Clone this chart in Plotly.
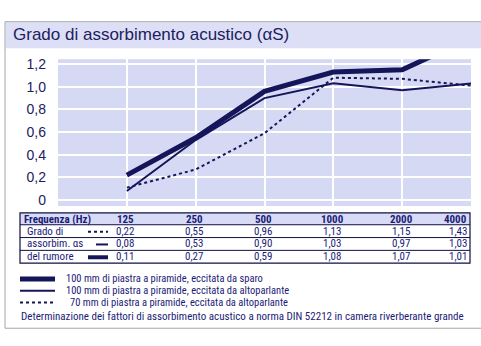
import plotly.graph_objects as go

# ---- data ----
freqs = ["125", "250", "500", "1000", "2000", "4000"]
shot_100mm = [0.22, 0.55, 0.96, 1.13, 1.15, 1.43]      # thick line
speaker_100mm = [0.08, 0.53, 0.90, 1.03, 0.97, 1.03]   # thin line
speaker_70mm = [0.11, 0.27, 0.59, 1.08, 1.07, 1.01]    # dotted line
row_labels = ["Grado di", "assorbim. \u03b1s", "del rumore"]
y_ticks = [0, 0.2, 0.4, 0.6, 0.8, 1.0, 1.2]
y_ticktext = ["0", "0,2", "0,4", "0,6", "0,8", "1,0", "1,2"]
legend_texts = [
    "100 mm di piastra a piramide, eccitata da sparo",
    "100 mm di piastra a piramide, eccitata da altoparlante",
    "70 mm di piastra a piramide, eccitata da altoparlante",
]
title = "Grado di assorbimento acustico (\u03b1S)"
footer = "Determinazione dei fattori di assorbimento acustico a norma DIN 52212 in camera riverberante grande"

W, H = 481, 346
NAVY = "#1c1c78"
LINE = "#15155a"
LAV = "#d6d9f3"
NARROW = "Liberation Sans Narrow, Arial Narrow, Roboto Condensed, Liberation Sans, sans-serif"
SANS = "Liberation Sans, Arial, sans-serif"

def px(x):
    return x / W

def py(y):
    return 1 - y / H

xi = list(range(len(freqs)))

fig = go.Figure()
fig.add_trace(go.Scatter(x=xi, y=speaker_70mm, mode="lines",
                         line=dict(color=LINE, width=2, dash="dot"), hoverinfo="skip"))
fig.add_trace(go.Scatter(x=xi, y=speaker_100mm, mode="lines",
                         line=dict(color=LINE, width=2), hoverinfo="skip"))
fig.add_trace(go.Scatter(x=xi, y=shot_100mm, mode="lines",
                         line=dict(color=LINE, width=5), hoverinfo="skip"))

shapes = []
annots = []

# outer frame and title band
shapes.append(dict(type="rect", xref="paper", yref="paper", x0=px(5.5), x1=px(482), y0=py(46), y1=py(19.5),
                   line=dict(width=0), fillcolor="#dcdff6", layer="below"))
shapes.append(dict(type="rect", xref="paper", yref="paper", x0=px(5), x1=px(482), y0=py(330), y1=py(19),
                   line=dict(color="#a3a8a8", width=1), layer="below"))
annots.append(dict(text=title, xref="paper", yref="paper", x=px(11), y=py(32), xanchor="left", yanchor="middle",
                   showarrow=False, font=dict(family=SANS, size=17, color="#1e2060")))

# table
tl, tr = 20, 470
rows_y = [213, 225, 238, 251, 264]
col_x = [125, 194, 263, 332, 401, 458]
shapes.append(dict(type="rect", xref="paper", yref="paper", x0=px(tl), x1=px(tr), y0=py(rows_y[1]), y1=py(rows_y[0]),
                   line=dict(width=0), fillcolor="#d8dbf5"))
shapes.append(dict(type="rect", xref="paper", yref="paper", x0=px(tl), x1=px(tr), y0=py(rows_y[-1]), y1=py(rows_y[0]),
                   line=dict(color="#101040", width=1.2)))
for yy in rows_y[1:-1]:
    shapes.append(dict(type="line", xref="paper", yref="paper", x0=px(tl), x1=px(tr), y0=py(yy), y1=py(yy),
                       line=dict(color="#101040", width=1)))

annots.append(dict(text="<b>Frequenza (Hz)</b>", xref="paper", yref="paper", x=px(22), y=py(219.5),
                   xanchor="left", yanchor="middle", showarrow=False, font=dict(family=NARROW, size=11, color=NAVY)))
for i, f in enumerate(freqs):
    anchor = "right" if i == len(freqs) - 1 else "center"
    xx = tr - 1 if i == len(freqs) - 1 else col_x[i]
    annots.append(dict(text="<b>%s</b>" % f, xref="paper", yref="paper", x=px(xx), y=py(219.5),
                       xanchor=anchor, yanchor="middle", showarrow=False,
                       font=dict(family=NARROW, size=11, color=NAVY)))

table_rows = [shot_100mm, speaker_100mm, speaker_70mm]
for r, vals in enumerate(table_rows):
    yc = (rows_y[r + 1] + rows_y[r + 2]) / 2
    annots.append(dict(text=row_labels[r], xref="paper", yref="paper", x=px(25), y=py(yc),
                       xanchor="left", yanchor="middle", showarrow=False,
                       font=dict(family=NARROW, size=11, color=NAVY)))
    for i, v in enumerate(vals):
        txt = ("%.2f" % v).replace(".", ",")
        anchor = "right" if i == len(vals) - 1 else "center"
        xx = tr - 1 if i == len(vals) - 1 else col_x[i]
        annots.append(dict(text=txt, xref="paper", yref="paper", x=px(xx), y=py(yc),
                           xanchor=anchor, yanchor="middle", showarrow=False,
                           font=dict(family=NARROW, size=11, color=NAVY)))

# row icons
icons = [(88, 108, 2, "dot"), (96, 108, 2, "solid"), (88, 108, 4, "solid")]
for r, (a, b, w, d) in enumerate(icons):
    yc = (rows_y[r + 1] + rows_y[r + 2]) / 2 + 0.5
    shapes.append(dict(type="line", xref="paper", yref="paper", x0=px(a), x1=px(b), y0=py(yc), y1=py(yc),
                       line=dict(color=LINE, width=w, dash=d)))

# legend
leg = [(280, 5, "solid", 65), (292, 2, "solid", 65), (304, 2, "dot", 69)]
for (yy, w, d, tx), txt in zip(leg, legend_texts):
    shapes.append(dict(type="line", xref="paper", yref="paper", x0=px(20), x1=px(55), y0=py(yy), y1=py(yy),
                       line=dict(color=LINE, width=w, dash=d)))
    annots.append(dict(text=txt, xref="paper", yref="paper", x=px(tx), y=py(yy), xanchor="left", yanchor="middle",
                       showarrow=False, borderpad=0, font=dict(family=NARROW, size=10.5, color=NAVY)))
annots.append(dict(text=footer, xref="paper", yref="paper", x=px(20), y=py(318.5), xanchor="left", yanchor="middle",
                   showarrow=False, borderpad=0, font=dict(family=NARROW, size=11, color=NAVY)))

y_top, y_bot = 57, 206
px_per_unit = (200 - 62) / 1.2
ymin = -(206 - 200) / px_per_unit
ymax = (200 - 57) / px_per_unit

fig.update_layout(
    width=W, height=H, margin=dict(l=0, r=0, t=0, b=0),
    paper_bgcolor="white", plot_bgcolor=LAV, showlegend=False,
    xaxis=dict(domain=[px(58), px(471)], range=[-1, 5], tickvals=xi, showticklabels=False,
               showgrid=True, gridcolor="white", gridwidth=1.5, zeroline=False, fixedrange=True),
    yaxis=dict(domain=[py(y_bot), py(y_top)], range=[ymin, ymax], tickvals=y_ticks, ticktext=y_ticktext,
               showgrid=True, gridcolor="white", gridwidth=1.5, zeroline=False,
               tickfont=dict(family=SANS, size=14, color="#1e2060"), ticklabelstandoff=11, fixedrange=True),
    shapes=shapes, annotations=annots,
)

fig.write_html("out.html")
